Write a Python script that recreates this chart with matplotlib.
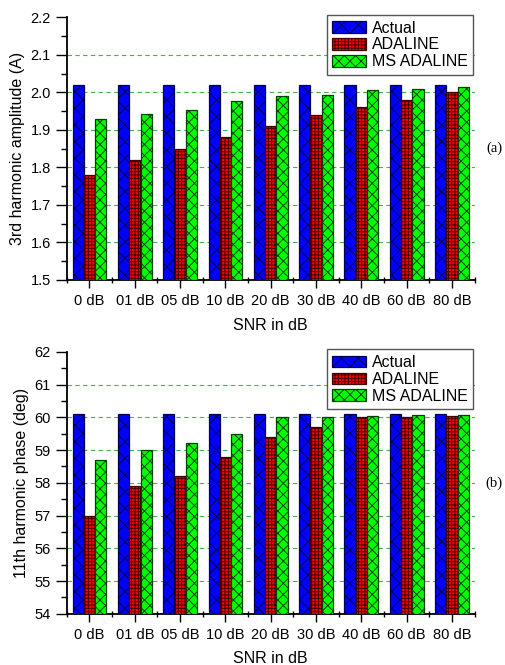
import matplotlib
matplotlib.use("Agg")
import matplotlib.pyplot as plt
import numpy as np
from matplotlib.ticker import MultipleLocator, FixedLocator

plt.rcParams['font.family'] = ['Liberation Sans', 'DejaVu Sans']
plt.rcParams['hatch.linewidth'] = 0.7

# datos
categorias = ["0 dB", "01 dB", "05 dB", "10 dB", "20 dB", "30 dB", "40 dB", "60 dB", "80 dB"]
series = ["Actual", "ADALINE", "MS ADALINE"]

amp_actual = [2.02, 2.02, 2.02, 2.02, 2.02, 2.02, 2.02, 2.02, 2.02]
amp_adaline = [1.78, 1.82, 1.85, 1.88, 1.91, 1.94, 1.96, 1.98, 2.00]
amp_ms = [1.93, 1.943, 1.953, 1.977, 1.989, 1.993, 2.005, 2.010, 2.015]

fase_actual = [60.1, 60.1, 60.1, 60.1, 60.1, 60.1, 60.1, 60.1, 60.1]
fase_adaline = [57.0, 57.9, 58.2, 58.8, 59.4, 59.7, 60.0, 60.0, 60.03]
fase_ms = [58.7, 59.0, 59.2, 59.5, 60.0, 60.02, 60.05, 60.06, 60.08]

colores = ["#0000FF", "#FF0000", "#00FF00"]
bordes = ["#000050", "#400000", "#004000"]
tramas = ["xx", "+++++", "xxx"]


def draw_panel(ax, valores, ylim, major, minor, ylabel, tag):
    x = np.arange(len(categorias))
    w = 0.245
    offsets = [-0.25, 0.0, 0.25]

    for vals, off, c, ec, h, name in zip(valores, offsets, colores, bordes, tramas, series):
        ax.bar(x + off, np.array(vals) - ylim[0], w, bottom=ylim[0],
               color=c, edgecolor=ec, hatch=h, linewidth=0.9,
               label=name, zorder=3)

    ax.set_xlim(-0.5, len(categorias) - 0.5)
    ax.set_ylim(*ylim)
    ax.set_xticks(x)
    ax.set_xticklabels(categorias, fontsize=10.5)
    ax.xaxis.set_minor_locator(FixedLocator(np.arange(-0.5, len(categorias), 1.0)))
    ax.yaxis.set_major_locator(MultipleLocator(major))
    ax.yaxis.set_minor_locator(MultipleLocator(minor))
    ax.tick_params(axis='x', which='major', direction='out', length=6, width=1, pad=4)
    ax.tick_params(axis='x', which='minor', direction='inout', length=5, width=1)
    ax.tick_params(axis='y', which='major', direction='out', length=8, width=1, labelsize=10.5)
    ax.tick_params(axis='y', which='minor', direction='out', length=4, width=1)

    for s in ['top', 'right']:
        ax.spines[s].set_visible(False)
    for s in ['left', 'bottom']:
        ax.spines[s].set_linewidth(1.3)

    # lineas de rejilla solo en las marcas interiores
    niveles = np.arange(ylim[0], ylim[1] + major / 2, major)[1:-1]
    ax.hlines(niveles, -0.5, len(categorias) - 0.5, colors="#4caf50",
              linestyles=(0, (4, 3)), linewidth=0.8, zorder=1)

    ax.set_ylabel(ylabel, fontsize=11.5)
    ax.set_xlabel("SNR in dB", fontsize=11.5, labelpad=7)

    leg = ax.legend(loc='upper right', bbox_to_anchor=(1.0, 1.015), fontsize=11.5,
                    fancybox=False, edgecolor="#555555", framealpha=1,
                    handlelength=2.1, handleheight=0.75, handletextpad=0.35,
                    labelspacing=0.12, borderpad=0.35, borderaxespad=0.1)
    leg.get_frame().set_linewidth(1.0)

    ax.text(1.048, 0.5, tag, transform=ax.transAxes, fontsize=10.5,
            family='Liberation Serif', va='center', ha='center')


fig = plt.figure(figsize=(5.06, 6.65), dpi=100)
ax1 = fig.add_axes([0.132, 0.579, 0.806, 0.395])
ax2 = fig.add_axes([0.132, 0.077, 0.806, 0.394])

draw_panel(ax1, [amp_actual, amp_adaline, amp_ms], (1.5, 2.2), 0.1, 0.05,
           "3rd harmonic amplitude (A)", "(a)")
ax1.yaxis.set_major_formatter(plt.FormatStrFormatter('%.1f'))

draw_panel(ax2, [fase_actual, fase_adaline, fase_ms], (54, 62), 1, 0.5,
           "11th harmonic phase (deg)", "(b)")

fig.savefig("out.png", dpi=100)
